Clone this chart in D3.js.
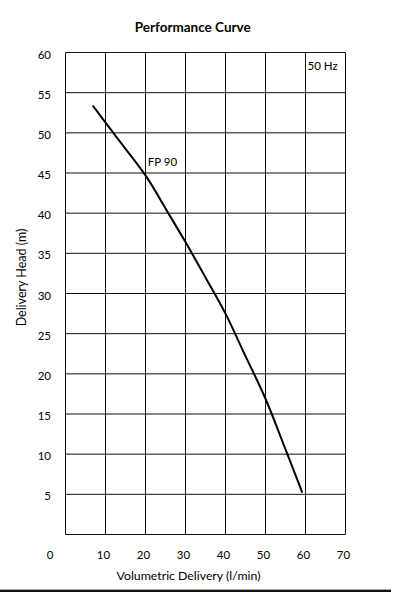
<!DOCTYPE html>
<html>
<head>
<meta charset="utf-8">
<script src="https://cdn.jsdelivr.net/npm/d3@7"></script>
<style>
  html, body { margin: 0; padding: 0; background: #fff; }
  svg { display: block; }
  text { font-family: Lato, "Open Sans", sans-serif; fill: #000; }
</style>
</head>
<body>
<svg id="chart" width="393" height="593"></svg>
<script>
// ---- data ----
const title = "Performance Curve";
const xTitle = "Volumetric Delivery (l/min)";
const yTitle = "Delivery Head (m)";
const seriesName = "FP 90";
const freqLabel = "50 Hz";
const flow = [6.8, 13, 20, 25.7, 30, 35, 40, 45, 50, 55, 59.2];
const head = [53.4, 49.3, 44.7, 40, 36.4, 32, 27.5, 22.2, 16.9, 10.6, 5.2];
const xTicks = [10, 20, 30, 40, 50, 60, 70];
const yTicks = [5, 10, 15, 20, 25, 30, 35, 40, 45, 50, 55, 60];
const originLabel = "0";

// ---- layout ----
const svg = d3.select("#chart");
const x = d3.scaleLinear().domain([0, 70]).range([65.5, 345.5]);
const y = d3.scaleLinear().domain([0, 60]).range([534.5, 52.5]);

// grid
const grid = svg.append("g").attr("stroke", "#111").attr("stroke-width", 1).attr("fill", "none");
grid.selectAll("line.v").data([0].concat(xTicks)).join("line")
  .attr("class", "v")
  .attr("x1", d => x(d)).attr("x2", d => x(d))
  .attr("y1", y(0)).attr("y2", y(60));
grid.selectAll("line.h").data([0].concat(yTicks)).join("line")
  .attr("class", "h")
  .attr("x1", x(0)).attr("x2", x(70))
  .attr("y1", d => y(d)).attr("y2", d => y(d));

// y labels
svg.append("g").selectAll("text").data(yTicks).join("text")
  .attr("x", x(0) - 14.5)
  .attr("y", d => y(d) + 2)
  .attr("dy", "0.35em")
  .attr("text-anchor", "end")
  .attr("font-size", 11.5)
  .text(d => d);

// x labels
svg.append("g").selectAll("text").data(xTicks).join("text")
  .attr("x", d => x(d) - 2)
  .attr("y", y(0) + 20.5)
  .attr("dy", "0.35em")
  .attr("text-anchor", "middle")
  .attr("font-size", 11.5)
  .text(d => d);

// origin label
svg.append("text")
  .attr("x", x(0) - 15.5)
  .attr("y", y(0) + 20.5)
  .attr("dy", "0.35em")
  .attr("text-anchor", "middle")
  .attr("font-size", 11.5)
  .text(originLabel);

// curve
const pts = flow.map((f, i) => [f, head[i]]);
svg.append("path")
  .datum(pts)
  .attr("fill", "none")
  .attr("stroke", "#000")
  .attr("stroke-width", 2)
  .attr("d", d3.line().x(d => x(d[0])).y(d => y(d[1])).curve(d3.curveCatmullRom.alpha(0.5)));

// annotations
svg.append("text").attr("x", 147.7).attr("y", 162.3).attr("dy", "0.35em")
  .attr("font-size", 11.5).text(seriesName);
svg.append("text").attr("x", 307.5).attr("y", 66).attr("dy", "0.35em")
  .attr("font-size", 11.5).text(freqLabel);

// titles
svg.append("text").attr("x", 192.7).attr("y", 27.3).attr("dy", "0.35em")
  .attr("text-anchor", "middle").attr("font-size", 13.5).attr("font-weight", "bold")
  .text(title);
svg.append("text").attr("x", 188.5).attr("y", 575.5).attr("dy", "0.35em")
  .attr("text-anchor", "middle").attr("font-size", 12.3)
  .text(xTitle);
svg.append("text")
  .attr("transform", "translate(21.5,277.5) rotate(-90)")
  .attr("dy", "0.35em")
  .attr("text-anchor", "middle").attr("font-size", 12.5)
  .text(yTitle);

// bottom rule
svg.append("line").attr("x1", 0).attr("x2", 391).attr("y1", 589.5).attr("y2", 589.5)
  .attr("stroke", "#aaa").attr("stroke-width", 1);
svg.append("line").attr("x1", 0).attr("x2", 391).attr("y1", 591).attr("y2", 591)
  .attr("stroke", "#111").attr("stroke-width", 2);
</script>
</body>
</html>
